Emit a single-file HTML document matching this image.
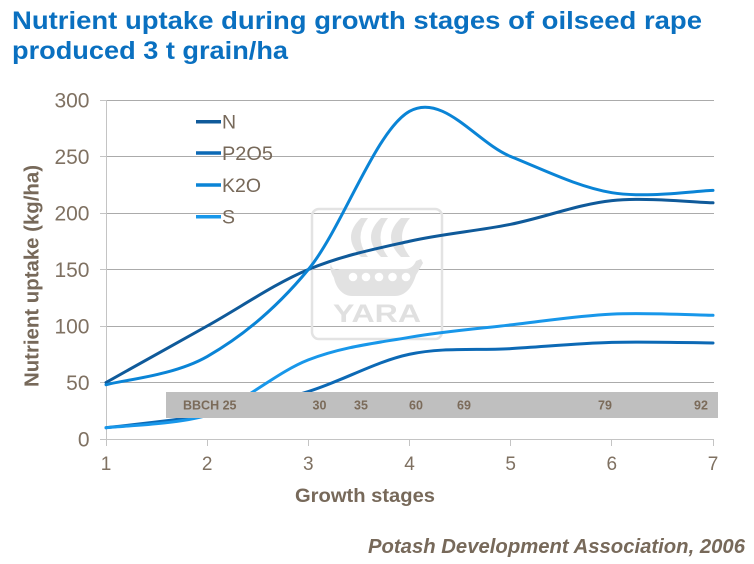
<!DOCTYPE html>
<html>
<head>
<meta charset="utf-8">
<style>
  html, body { margin: 0; padding: 0; background: #ffffff; }
  svg { display: block; }
  text { font-family: "Liberation Sans", Arial, sans-serif; }
</style>
</head>
<body>
<svg width="754" height="564" viewBox="0 0 754 564" xmlns="http://www.w3.org/2000/svg">
  <rect x="0" y="0" width="754" height="564" fill="#ffffff"/>

  <!-- Title -->
  <text x="12" y="29" font-size="25" font-weight="bold" fill="#0a70c0" textLength="690" lengthAdjust="spacingAndGlyphs">Nutrient uptake during growth stages of oilseed rape</text>
  <text x="12" y="59" font-size="25" font-weight="bold" fill="#0a70c0" textLength="276" lengthAdjust="spacingAndGlyphs">produced 3 t grain/ha</text>

  <!-- Gridlines -->
  <g stroke="#ababab" stroke-width="1">
    <line x1="106" y1="100.5" x2="714" y2="100.5"/>
    <line x1="106" y1="156.5" x2="714" y2="156.5"/>
    <line x1="106" y1="213.5" x2="714" y2="213.5"/>
    <line x1="106" y1="269.5" x2="714" y2="269.5"/>
    <line x1="106" y1="326.5" x2="714" y2="326.5"/>
    <line x1="106" y1="382.5" x2="714" y2="382.5"/>
  </g>

  <!-- Axes -->
  <g stroke="#c4c4c4" stroke-width="1">
    <line x1="106.5" y1="100" x2="106.5" y2="439"/>
    <line x1="100" y1="439.5" x2="714" y2="439.5"/>
    <line x1="100" y1="100.5" x2="106" y2="100.5"/>
    <line x1="100" y1="156.5" x2="106" y2="156.5"/>
    <line x1="100" y1="213.5" x2="106" y2="213.5"/>
    <line x1="100" y1="269.5" x2="106" y2="269.5"/>
    <line x1="100" y1="326.5" x2="106" y2="326.5"/>
    <line x1="100" y1="382.5" x2="106" y2="382.5"/>
    <line x1="106.5" y1="439" x2="106.5" y2="446"/>
    <line x1="207.5" y1="439" x2="207.5" y2="446"/>
    <line x1="308.5" y1="439" x2="308.5" y2="446"/>
    <line x1="409.5" y1="439" x2="409.5" y2="446"/>
    <line x1="510.5" y1="439" x2="510.5" y2="446"/>
    <line x1="611.5" y1="439" x2="611.5" y2="446"/>
    <line x1="713.5" y1="439" x2="713.5" y2="446"/>
  </g>

  <!-- Watermark -->
  <g fill="#e2e2e2">
    <rect x="312" y="209" width="130" height="130" rx="7" ry="7" fill="none" stroke="#e3e3e3" stroke-width="2.5"/>
    <path d="M361,218 Q341,237 361,257 L368,257 Q353,237 368,218 Z"/>
    <path d="M381,218 Q361,237 381,257 L388,257 Q373,237 388,218 Z"/>
    <path d="M401,218 Q381,237 401,257 L410,257 Q394,237 410,218 Z"/>
    <path d="M331,263 C331,270 336,270 340,269 L405,269 C410,269 414,266 416,261 L421,259 L423,263 C420,268 418,272 416,275 C412,288 405,296 395,296 L352,296 C343,296 336,288 334,278 C332,274 329,270 331,263 Z"/>
    <g fill="#ffffff">
      <circle cx="353" cy="277" r="4.3"/>
      <circle cx="366" cy="277" r="4.3"/>
      <circle cx="379" cy="277" r="4.3"/>
      <circle cx="392.5" cy="277" r="4.3"/>
      <circle cx="406" cy="277" r="4.3"/>
    </g>
    <text x="333" y="322" font-size="25" font-weight="bold" fill="#e0e0e0" textLength="88" lengthAdjust="spacingAndGlyphs">YARA</text>
  </g>

  <!-- Series -->
  <g fill="none" stroke-width="3" stroke-linecap="round" stroke-linejoin="round">
    <!-- N -->
    <path stroke="#0f5a9a" d="M106,382.5 C122.86,373.08 173.45,344.83 207.17,326 C240.89,307.17 274.61,283.63 308.33,269.5 C342.05,255.38 375.78,248.78 409.5,241.25 C443.22,233.72 476.95,231.08 510.67,224.3 C544.39,217.53 578.11,204.18 611.83,200.6 C645.55,197.02 696.14,202.43 713,202.8"/>
    <!-- P2O5 -->
    <path stroke="#0c69b5" d="M106,427.7 C122.86,425.82 173.45,420.43 207.17,415.4 C240.89,410.37 274.61,401.86 308.33,391.5 C342.05,381.14 375.78,361.4 409.5,354.25 C443.22,347.1 476.95,350.58 510.67,348.6 C544.39,346.63 578.11,343.34 611.83,342.4 C645.55,341.46 696.14,342.86 713,342.95"/>
    <!-- K2O -->
    <path stroke="#0a84d6" d="M106,384.76 C122.86,380.05 173.45,375.72 207.17,356.51 C240.89,337.3 274.61,310.37 308.33,269.5 C342.05,228.63 375.78,130.13 409.5,111.3 C443.22,92.47 476.95,142.93 510.67,156.5 C544.39,170.07 578.11,187.05 611.83,192.7 C645.55,198.35 696.14,190.78 713,190.4"/>
    <!-- S -->
    <path stroke="#1897ea" d="M106,427.7 C122.86,425.82 173.45,424.7 207.17,415.4 C240.89,405.1 274.61,373.08 308.33,359.9 C342.05,346.72 375.78,343.13 409.5,337.3 C443.22,331.47 476.95,328.77 510.67,324.9 C544.39,321.03 578.11,315.7 611.83,314.1 C645.55,312.5 696.14,315.1 713,315.3"/>
  </g>

  <!-- BBCH band -->
  <rect x="166" y="392" width="552" height="26" fill="#bfbfbf"/>
  <g font-size="12.5" font-weight="bold" fill="#7b6b5a">
    <text x="183" y="409.5">BBCH 25</text>
    <text x="312.5" y="409.5">30</text>
    <text x="354" y="409.5">35</text>
    <text x="409" y="409.5">60</text>
    <text x="457" y="409.5">69</text>
    <text x="598" y="409.5">79</text>
    <text x="694" y="409.5">92</text>
  </g>

  <!-- Legend -->
  <g stroke-width="3.5">
    <line x1="196" y1="121.7" x2="221" y2="121.7" stroke="#0f5a9a"/>
    <line x1="196" y1="153" x2="221" y2="153" stroke="#0c69b5"/>
    <line x1="196" y1="185" x2="221" y2="185" stroke="#0a84d6"/>
    <line x1="196" y1="216.7" x2="221" y2="216.7" stroke="#1897ea"/>
  </g>
  <g font-size="19.5" fill="#77695a">
    <text x="222" y="128.5">N</text>
    <text x="222" y="160" textLength="51" lengthAdjust="spacingAndGlyphs">P2O5</text>
    <text x="222" y="191.8" textLength="39" lengthAdjust="spacingAndGlyphs">K2O</text>
    <text x="222" y="223.3">S</text>
  </g>

  <!-- Y tick labels -->
  <g font-size="21" fill="#7f7162" text-anchor="end">
    <text x="89.5" y="107.7">300</text>
    <text x="89.5" y="164.2">250</text>
    <text x="89.5" y="220.7">200</text>
    <text x="89.5" y="277.2">150</text>
    <text x="89.5" y="333.7">100</text>
    <text x="89.5" y="390.2">50</text>
    <text x="89.5" y="446.7">0</text>
  </g>

  <!-- X tick labels -->
  <g font-size="19" fill="#7f7162" text-anchor="middle">
    <text x="106" y="470">1</text>
    <text x="207.2" y="470">2</text>
    <text x="308.3" y="470">3</text>
    <text x="409.5" y="470">4</text>
    <text x="510.7" y="470">5</text>
    <text x="611.8" y="470">6</text>
    <text x="713" y="470">7</text>
  </g>

  <!-- Axis titles -->
  <text x="295" y="502" font-size="19" font-weight="bold" fill="#77695a" textLength="140" lengthAdjust="spacingAndGlyphs">Growth stages</text>
  <text transform="translate(38.3,387) rotate(-90)" x="0" y="0" font-size="20.5" font-weight="bold" fill="#77695a" textLength="222" lengthAdjust="spacingAndGlyphs">Nutrient uptake (kg/ha)</text>

  <!-- Source -->
  <text x="368" y="553" font-size="20" font-weight="bold" font-style="italic" fill="#77695a" textLength="377" lengthAdjust="spacingAndGlyphs">Potash Development Association, 2006</text>
</svg>
</body>
</html>
